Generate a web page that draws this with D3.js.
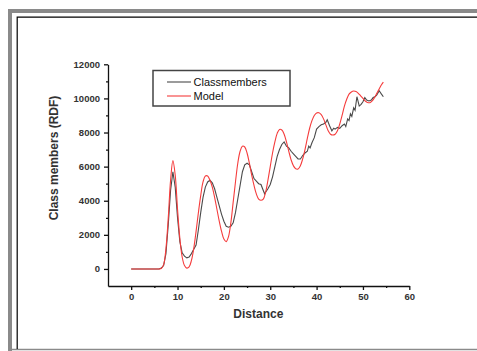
<!DOCTYPE html>
<html>
<head>
<meta charset="utf-8">
<script src="https://cdn.jsdelivr.net/npm/d3@7"></script>
<style>
  body { margin: 0; background: #fff; }
  svg { display: block; font-family: "Liberation Sans", Arial, sans-serif; }
</style>
</head>
<body>
<svg id="chart" width="477" height="351"></svg>
<script>
// distances and values
const classDist = [0, 1, 2, 3, 4, 5, 6, 6.5, 7, 7.5, 8, 8.5, 9, 9.5, 10, 10.5, 11, 11.5, 12, 12.5, 13, 13.5, 14, 14.5, 15, 15.5, 16, 16.5, 17, 17.5, 18, 18.5, 19, 19.5, 20, 20.5, 21, 21.5, 22, 22.5, 23, 23.5, 24, 24.5, 25, 25.5, 26, 26.5, 27, 27.5, 28, 28.5, 28.8, 29, 29.5, 30, 30.5, 31, 31.5, 32, 32.5, 33, 33.5, 34, 34.5, 35, 35.5, 36, 36.5, 37, 37.5, 38, 38.3, 38.6, 39, 39.5, 40, 40.5, 41, 41.5, 42, 42.3, 42.8, 43.3, 43.7, 44, 44.5, 45, 45.5, 46, 46.3, 46.7, 47, 47.3, 47.6, 48, 48.3, 48.7, 49.2, 49.6, 50, 50.4, 50.8, 51.3, 51.8, 52.2, 52.6, 53, 53.5, 54, 54.4];
const classVals = [0, 0, 0, 0, 0, 0, 0, 50, 200, 900, 2600, 4600, 5700, 4800, 3000, 1600, 950, 750, 650, 700, 900, 1150, 1400, 2300, 3300, 4200, 4800, 5100, 5200, 5050, 4700, 4200, 3700, 3200, 2800, 2500, 2450, 2500, 2700, 3300, 4100, 4900, 5700, 6100, 6200, 6100, 5700, 5300, 5150, 5000, 4950, 4600, 4400, 4500, 4700, 4950, 5400, 6000, 6600, 7000, 7300, 7450, 7200, 7100, 6900, 6750, 6600, 6450, 6450, 6650, 6800, 6900, 7200, 7100, 7400, 7700, 8200, 8350, 8450, 8500, 8600, 8750, 8400, 8100, 8250, 8200, 8300, 8250, 8400, 8500, 8350, 8800, 8700, 9100, 8950, 9450, 9300, 10100, 9550, 9650, 9800, 10050, 9900, 9850, 9900, 10050, 10100, 10200, 10450, 10250, 10100];

const modelDist = [0, 1, 2, 3, 4, 5, 6, 6.5, 7, 7.5, 8, 8.5, 9, 9.5, 10, 10.5, 11, 11.5, 12, 12.5, 13, 13.5, 14, 14.5, 15, 15.5, 16, 16.5, 17, 17.5, 18, 18.5, 19, 19.5, 20, 20.5, 21, 21.5, 22, 22.5, 23, 23.5, 24, 24.5, 25, 25.5, 26, 26.5, 27, 27.5, 28, 28.5, 29, 29.5, 30, 30.5, 31, 31.5, 32, 32.5, 33, 33.5, 34, 34.5, 35, 35.5, 36, 36.5, 37, 37.5, 38, 38.5, 39, 39.5, 40, 40.5, 41, 41.5, 42, 42.5, 43, 43.5, 44, 44.5, 45, 45.5, 46, 46.5, 47, 47.5, 48, 48.5, 49, 49.5, 50, 50.5, 51, 51.5, 52, 52.5, 53, 53.5, 54, 54.4];
const modelVals = [0, 0, 0, 0, 0, 0, 0, 30, 250, 1200, 3000, 5200, 6350, 5500, 3500, 1800, 700, 200, 50, 120, 500, 1200, 2200, 3300, 4300, 5100, 5450, 5450, 5200, 4800, 4200, 3500, 2800, 2200, 1750, 1600, 1900, 2700, 3900, 5100, 6200, 6900, 7200, 7150, 6800, 6200, 5500, 4900, 4400, 4100, 4030, 4100, 4500, 5200, 6000, 6800, 7450, 7950, 8180, 8150, 7900, 7450, 6900, 6400, 6050, 5870, 5860, 6050, 6450, 7000, 7650, 8250, 8700, 9000, 9150, 9160, 9050, 8800, 8450, 8100, 7900, 7850, 7900, 8100, 8500, 9000, 9550, 9950, 10250, 10380, 10430, 10400, 10300, 10150, 10000, 9850, 9760, 9750, 9850, 10050, 10300, 10550, 10800, 10950];

const xMajor = [0, 10, 20, 30, 40, 50, 60];
const xMinor = [5, 15, 25, 35, 45, 55];
const yMajor = [0, 2000, 4000, 6000, 8000, 10000, 12000];
const yMinor = [1000, 3000, 5000, 7000, 9000, 11000];

const seriesNames = ["Classmembers", "Model"];
const seriesColors = ["#4a4a4a", "#f53c3c"];

const svg = d3.select("#chart");

// page frame
svg.append("path")
  .attr("d", "M10,351 V11 H477")
  .attr("fill", "none")
  .attr("stroke", "#8a8a8a")
  .attr("stroke-width", 4);
svg.append("line")
  .attr("x1", 12).attr("x2", 477).attr("y1", 349.5).attr("y2", 349.5)
  .attr("stroke", "#8a8a8a").attr("stroke-width", 1.5);
svg.append("path")
  .attr("d", "M17.2,349 V17.2 H477")
  .attr("fill", "none")
  .attr("stroke", "#000")
  .attr("stroke-width", 1.2);

const x = d3.scaleLinear().domain([-5, 60]).range([108, 409.3]);
const y = d3.scaleLinear().domain([-1000, 12000]).range([286, 64.3]);

const tickFont = g => g.selectAll("text")
  .attr("font-size", "9.5px")
  .attr("font-weight", "bold")
  .attr("fill", "#333");

// x axis
const gx = svg.append("g").attr("transform", `translate(0,${y(-1000)})`);
gx.call(d3.axisBottom(x).tickValues(xMajor).tickSize(4).tickPadding(3).tickSizeOuter(0).tickFormat(d3.format("d")))
  .call(tickFont);
gx.append("g").call(d3.axisBottom(x).tickValues(xMinor).tickSize(2).tickFormat("").tickSizeOuter(0))
  .call(g => g.select(".domain").remove());
gx.selectAll("path, line").attr("stroke", "#111").attr("stroke-width", 1.3);

// y axis
const gy = svg.append("g").attr("transform", `translate(${x(-5)},0)`);
gy.call(d3.axisLeft(y).tickValues(yMajor).tickSize(4).tickPadding(4).tickSizeOuter(0).tickFormat(d3.format("d")))
  .call(tickFont);
gy.append("g").call(d3.axisLeft(y).tickValues(yMinor).tickSize(2).tickFormat("").tickSizeOuter(0))
  .call(g => g.select(".domain").remove());
gy.selectAll("path, line").attr("stroke", "#111").attr("stroke-width", 1.3);

// axis titles
svg.append("text")
  .attr("x", 258.3).attr("y", 317.5)
  .attr("text-anchor", "middle")
  .attr("font-size", "12px")
  .attr("font-weight", "bold")
  .attr("fill", "#333")
  .text("Distance");
svg.append("text")
  .attr("transform", "translate(57.5,158) rotate(-90)")
  .attr("text-anchor", "middle")
  .attr("font-size", "12px")
  .attr("font-weight", "bold")
  .attr("fill", "#333")
  .text("Class members (RDF)");

// series
const line = d3.line()
  .x(d => x(d[0]))
  .y(d => y(d[1]));

const classData = d3.zip(classDist, classVals);
const modelData = d3.zip(modelDist, modelVals);

svg.append("path")
  .datum(classData)
  .attr("fill", "none")
  .attr("stroke", seriesColors[0])
  .attr("stroke-width", 1.1)
  .attr("d", line.curve(d3.curveLinear));

svg.append("path")
  .datum(modelData)
  .attr("fill", "none")
  .attr("stroke", seriesColors[1])
  .attr("stroke-width", 1.1)
  .attr("d", line.curve(d3.curveCatmullRom));

// legend
const legend = svg.append("g");
legend.append("rect")
  .attr("x", 153).attr("y", 70.5)
  .attr("width", 137).attr("height", 35.5)
  .attr("fill", "#fff")
  .attr("stroke", "#444")
  .attr("stroke-width", 1.5);

const rows = legend.selectAll("g.row")
  .data(seriesNames)
  .join("g")
  .attr("class", "row")
  .attr("transform", (d, i) => `translate(0,${82 + i * 14})`);
rows.append("line")
  .attr("x1", 167).attr("x2", 191)
  .attr("stroke", (d, i) => seriesColors[i])
  .attr("stroke-width", 1.1);
rows.append("text")
  .attr("x", 193.5).attr("dy", "0.36em")
  .attr("font-size", "11px")
  .attr("fill", "#111")
  .text(d => d);
</script>
</body>
</html>
